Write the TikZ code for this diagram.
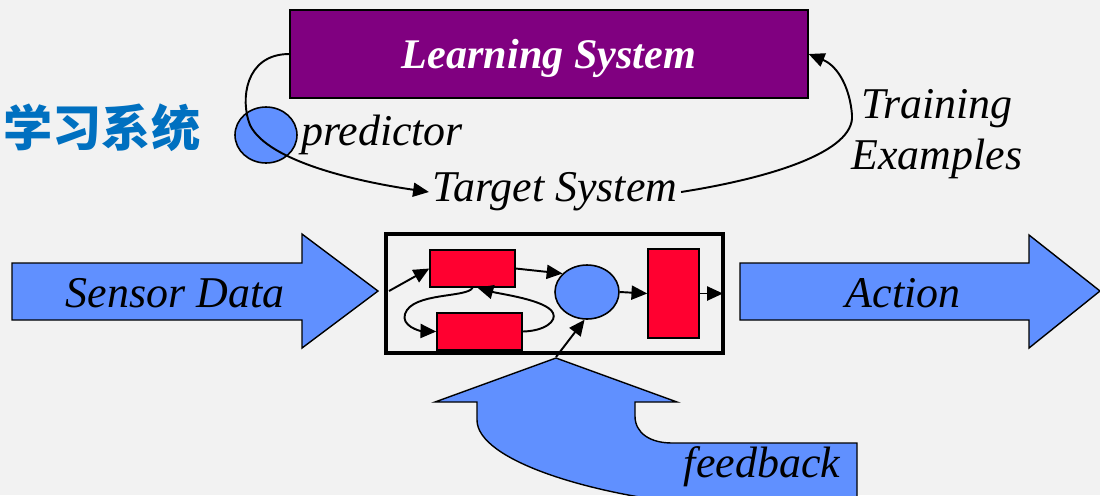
\documentclass[tikz,border=0pt]{standalone}
\usepackage{fontspec}
\setmainfont{Liberation Serif}
\newfontfamily\cjk{Noto Sans CJK SC}
\usepackage{tikz}
\usetikzlibrary{shapes.geometric, arrows.meta, positioning}
\definecolor{bggray}{HTML}{F2F2F2}
\definecolor{arrblue}{HTML}{6090FF}
\definecolor{boxred}{HTML}{FF0030}
\definecolor{lspurple}{HTML}{800080}
\definecolor{titleblue}{HTML}{0070C0}

\begin{document}
\begin{tikzpicture}[
    x=0.02cm, y=-0.02cm,
    lbl/.style={font=\fontsize{25}{29}\selectfont\itshape, inner sep=0pt, align=center},
    blockarr/.style={draw=black, line width=0.8pt, fill=arrblue, line join=miter},
    redbox/.style={rectangle, draw, fill=boxred, line width=0.8pt, minimum width=1.7cm, minimum height=0.74cm, inner sep=0pt},
    blob/.style={ellipse, draw, fill=arrblue, line width=0.9pt, inner sep=0pt},
    arr/.style={-{Triangle[length=9pt, width=8pt]}, line width=1.1pt},
]
    % Page and background
    \useasboundingbox (0,0) rectangle (1100,495);
    \clip (0,0) rectangle (1100,495);
    \fill[bggray] (0,0) rectangle (1100,495);

    % Title
    \node[font=\fontsize{28}{30}\selectfont\cjk\bfseries, text=titleblue, inner sep=0pt] (title) at (102,128) {学习系统};

    % Learning system (top)
    \node[rectangle, draw, line width=0.8pt, fill=lspurple, minimum width=10.36cm, minimum height=1.76cm, text depth=0pt,
          font=\fontsize{24}{28}\selectfont\bfseries\itshape, text=white] (learn) at (549,54) {Learning System};
    \node[blob, minimum width=1.24cm, minimum height=1.12cm] (pred) at (266,135) {};
    \node[lbl, right=0.06cm of pred] (predlbl) {predictor};
    \node[lbl, inner sep=2pt] (tgtlbl) at (555,192) {Target System};
    \node[lbl] (trainlbl) at (937,134) {Training\\Examples};

    % Big block arrows
    \fill[blockarr] (12,263) -- (302,263) -- (302,234) -- (378,291) -- (302,348) -- (302,320) -- (12,320) -- cycle;
    \node[lbl] (sensor) at (175,293) {Sensor Data};
    \fill[blockarr] (740,263) -- (1029,263) -- (1029,235) -- (1100,291) -- (1029,348) -- (1029,320) -- (740,320) -- cycle;
    \node[lbl] (action) at (903,293) {Action};
    \fill[blockarr] (556,358) -- (677,402) -- (635,402) -- (635,416) .. controls (635,433) and (650,443) .. (672,443)
        -- (857,443) -- (857,505) -- (700,505) .. controls (590,495) and (477,460) .. (477,420) -- (477,402) -- (435,402) -- cycle;
    \node[lbl] (fblbl) at (762,467) {feedback};

    % Target system box and parts
    \node[rectangle, draw, line width=2.3pt, outer sep=0pt, minimum width=6.74cm, minimum height=2.38cm] (target) at (554.5,293.5) {};
    \node[redbox] (ra) at (472.5,268.5) {};
    \node[redbox] (rb) at (479.5,331.5) {};
    \node[blob, minimum width=1.28cm, minimum height=1.08cm] (cc) at (587,292) {};
    \node[redbox, minimum width=1.02cm, minimum height=1.78cm] (rc) at (673.5,293.5) {};
    \coordinate (sin) at (389,291);
    \coordinate (fbin) at (556,357);

    % Arrows: learning loop
    \draw[arr] (learn.west) .. controls (245,54) and (240,100) .. (250,125) .. controls (268,162) and (360,182) .. (tgtlbl.west);
    \draw[arr] (tgtlbl.east) .. controls (770,178) and (855,152) .. (852,115) .. controls (850,88) and (838,66) .. (learn.east);

    % Arrows: inside target system
    \draw[arr] (sin) -- (ra.west);
    \draw[arr] (ra.east) -- (cc.143);
    \draw[arr] (cc.east) -- (rc.west);
    \draw[arr] (rc.east) -- (target.east);
    \draw[arr] (ra.south) .. controls (468,298) and (412,292) .. (405,314) .. controls (401,326) and (420,331) .. (rb.west);
    \draw[arr] (rb.east) .. controls (545,331) and (557,321) .. (553,313) .. controls (547,300) and (500,294) .. ([xshift=0.1cm]ra.south);
    \draw[arr] (fbin) -- (cc.265);
\end{tikzpicture}
\end{document}
